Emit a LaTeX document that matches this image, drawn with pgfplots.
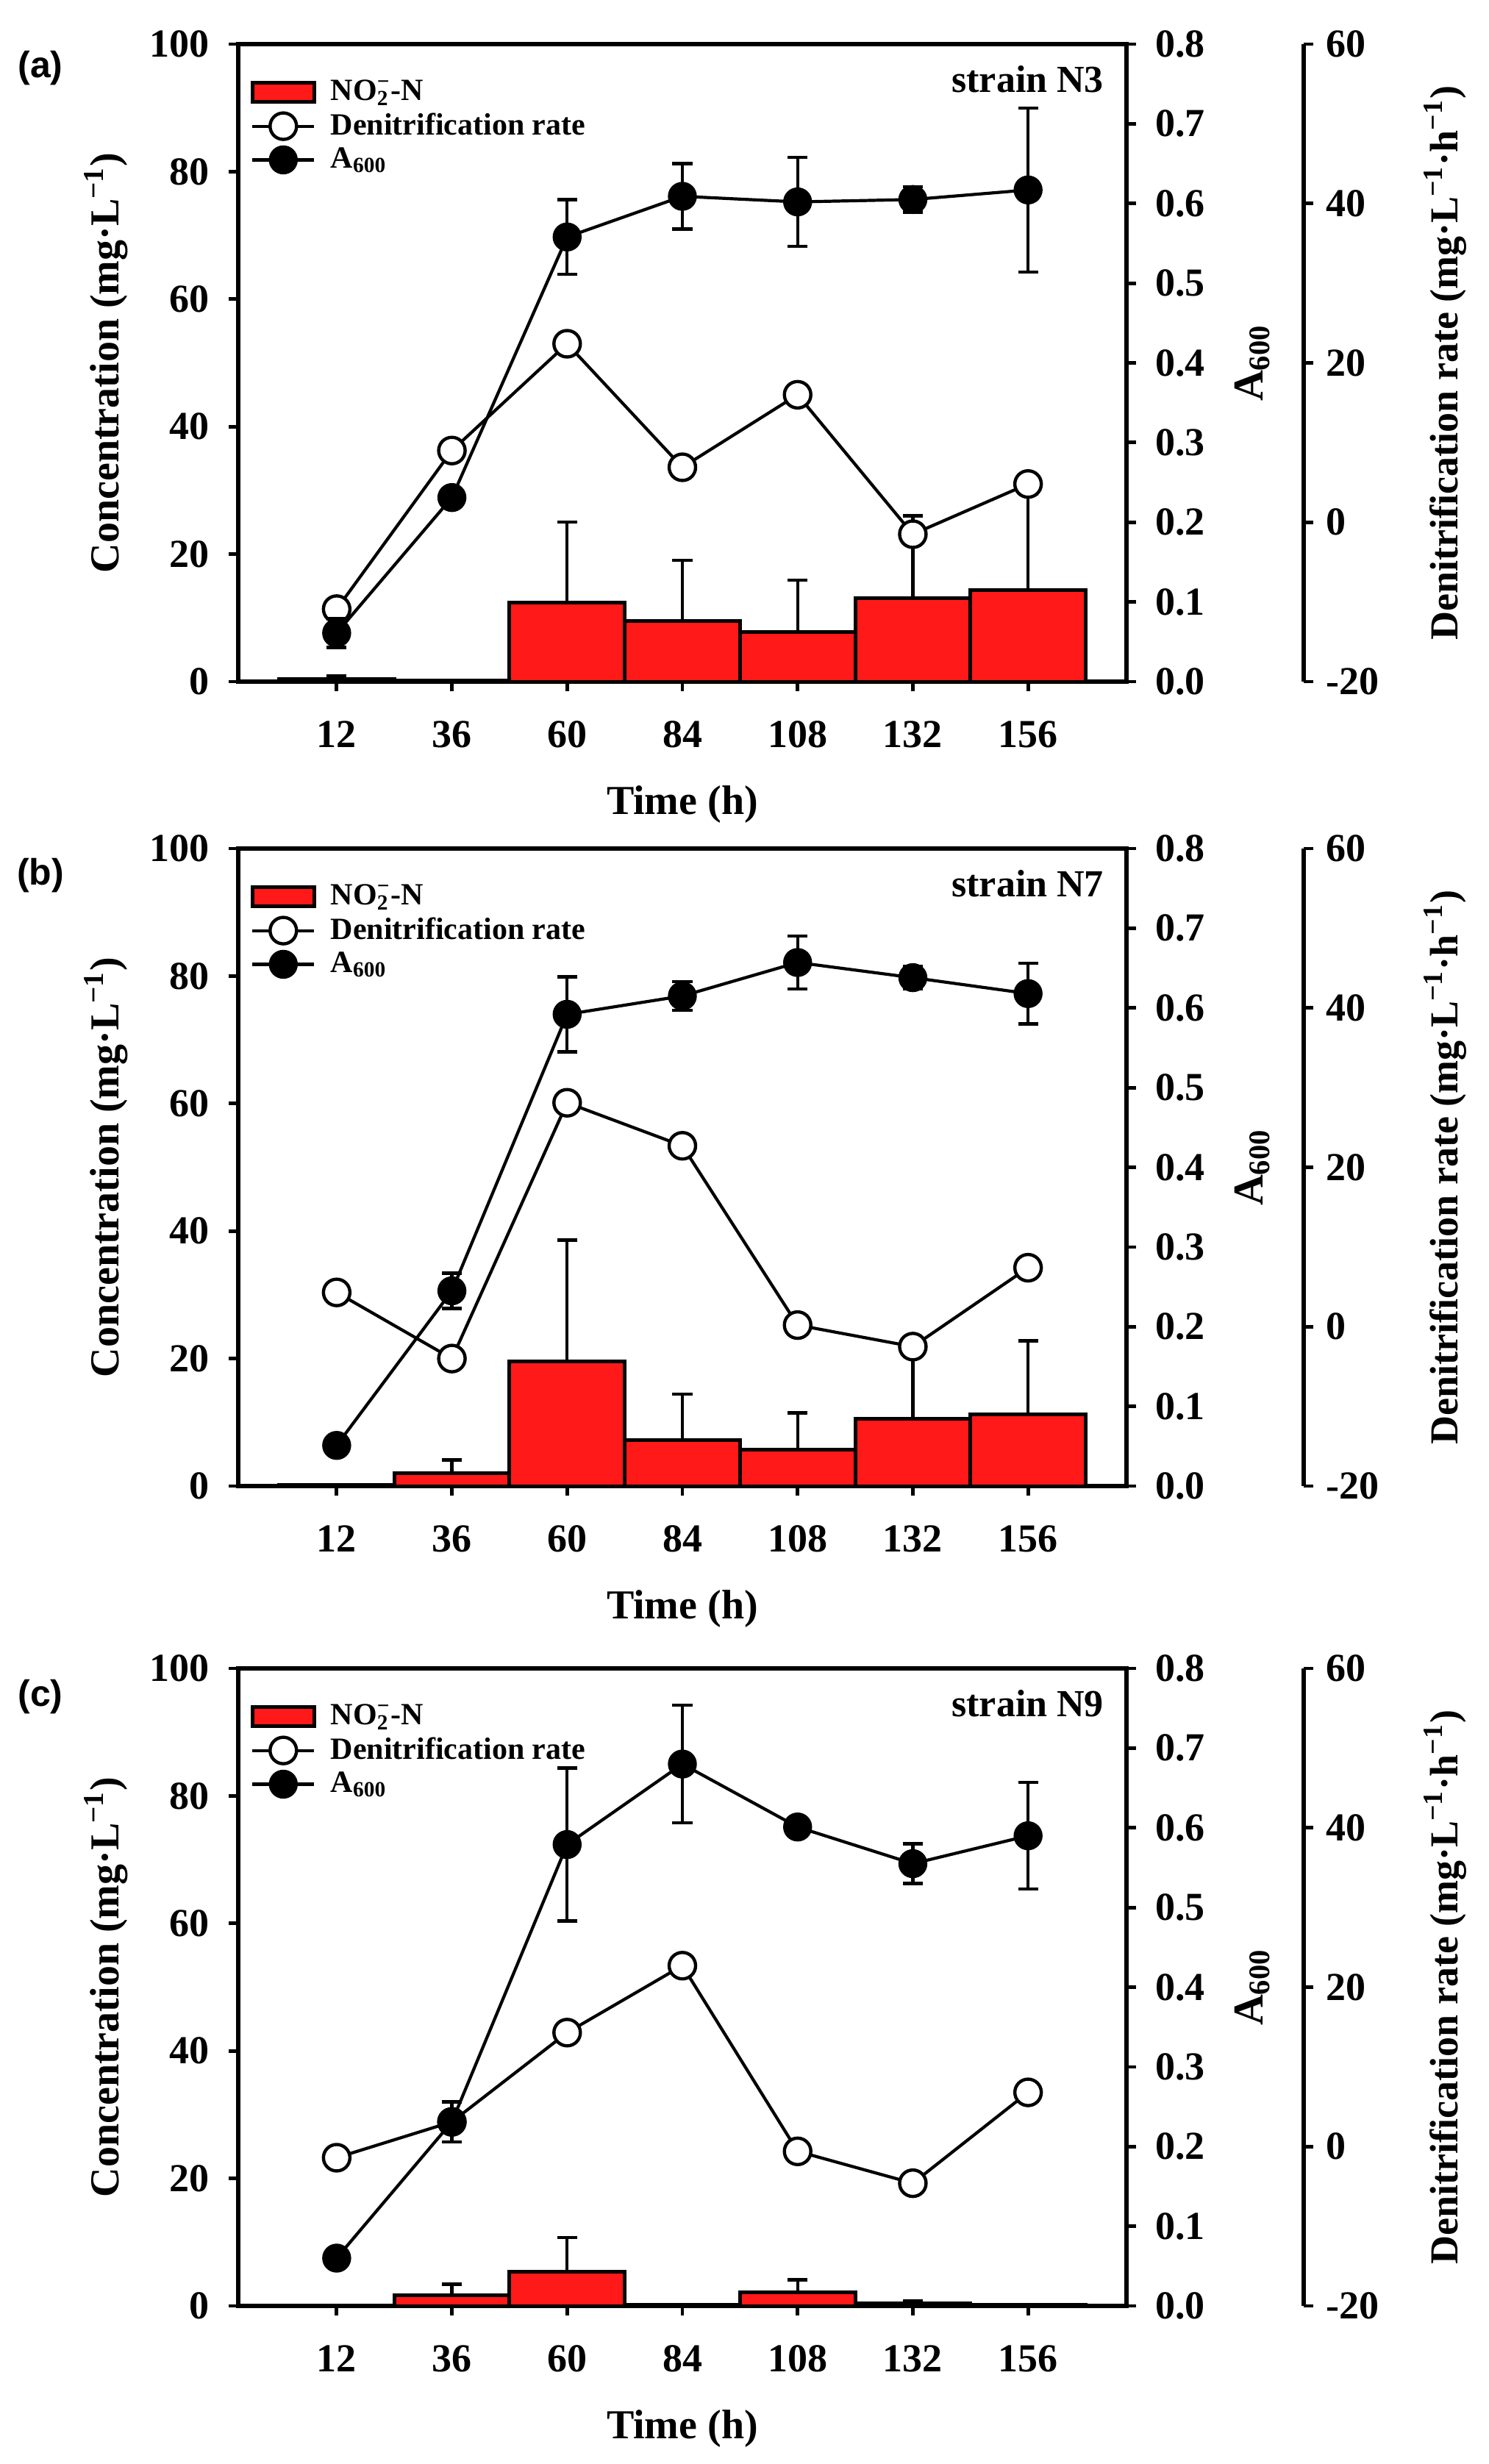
\documentclass[border=0pt]{standalone}
\usepackage{fontspec}
\setmainfont{Liberation Serif}
\newfontfamily\sansf{Liberation Sans}
\usepackage{pgfplots}
\pgfplotsset{compat=1.18}
\definecolor{barred}{RGB}{255,25,25}
\tikzset{
  strainlab/.style={anchor=east, font=\fontsize{13}{15}\selectfont\bfseries},
  panellab/.style={font=\sansf\bfseries\fontsize{12.5}{14}\selectfont},
}
\pgfplotsset{
  common/.style={
    scale only axis, width=302pt, height=216.75pt,
    xmin=-8.5, xmax=176.5,
    tick align=outside,
    major tick length=3.3pt,
    /pgf/number format/assume math mode=true,
    tick label style={font=\fontsize{13.5}{15}\selectfont\bfseries},
    every tick/.style={black, line width=1.2pt},
  },
  leftax/.style={common, clip=false,
    ymin=0, ymax=100, ytick={0,20,40,60,80,100},
    xtick={12,36,60,84,108,132,156}, xtick pos=bottom, ytick pos=left,
    axis line style={line width=1.7pt},
    xticklabel style={yshift=-6.5pt},
    yticklabel style={xshift=-3pt},
    xlabel={Time (h)},
    ylabel={Concentration (mg·L\textsuperscript{−1})},
    every axis x label/.style={at={(axis description cs:0.5,-0.193)}, anchor=center, font=\fontsize{14}{16}\selectfont\bfseries},
    every axis y label/.style={at={(axis description cs:-0.149,0.5)}, anchor=center, rotate=90, font=\fontsize{14}{16}\selectfont\bfseries},
    legend style={at={(axis description cs:0,1)}, anchor=north west, xshift=1pt, yshift=-8pt,
      draw=none, fill=none, font=\fontsize{10.5}{12}\selectfont\bfseries, row sep=-1.2pt, column sep=3pt},
    legend cell align=left,
  },
  rateax/.style={common,
    ymin=-20, ymax=60, ytick={-20,0,20,40,60},
    axis x line=none, axis y line*=right,
    every outer y axis line/.append style={xshift=60.25pt, line width=1.4pt},
    ytick style={xshift=60.25pt},
    yticklabel style={xshift=61pt, anchor=west},
    ylabel={Denitrification rate (mg·L\textsuperscript{−1}·h\textsuperscript{−1})},
    every axis y label/.style={at={(axis description cs:1.359,0.5)}, anchor=center, rotate=90, font=\fontsize{13.5}{15}\selectfont\bfseries},
  },
  aax/.style={common,
    ymin=0, ymax=0.8, ytick={0,0.1,0.2,0.3,0.4,0.5,0.6,0.7,0.8},
    axis x line=none, axis y line*=right,
    every outer y axis line/.append style={line width=1.7pt},
    yticklabel style={xshift=3pt, /pgf/number format/.cd, fixed, fixed zerofill, precision=1},
    ylabel={A\textsubscript{600}},
    every axis y label/.style={at={(axis description cs:1.1416,0.5)}, anchor=center, rotate=90, font=\fontsize{14.5}{16}\selectfont\bfseries},
  },
  barlegend/.style={legend image code/.code={\draw[##1] (0pt,-3.2pt) rectangle (21pt,3.2pt);}},
  linelegend/.style={legend image code/.code={\draw[mark repeat=2, mark phase=2, ##1] plot coordinates {(0pt,0pt) (10.5pt,0pt) (21pt,0pt)};}},
  barplot/.style={ybar, bar width=24, fill=barred, draw=black, line width=1.25pt, barlegend,
    error bars/.cd, y dir=plus, y explicit,
    error bar style={line width=1.1pt, black},
    error mark options={rotate=90, mark size=3.4pt, line width=1.1pt}},
  rateplot/.style={black, line width=1.05pt, mark=*, mark size=4.5pt, mark options={fill=white, line width=1.1pt}},
  aplot/.style={black, line width=1.05pt, mark=*, mark size=4.4pt, mark options={fill=black},
    error bars/.cd, y dir=both, y explicit,
    error bar style={line width=1.1pt, black},
    error mark options={rotate=90, mark size=3.4pt, line width=1.1pt}},
}
\begin{document}
\begin{tikzpicture}
\path[use as bounding box] (0pt,0pt) rectangle (506pt,-837.75pt);

% ---------------- panel (a) ----------------
\begin{axis}[leftax, at={(81pt,-231.75pt)}, anchor=south west]
\addplot[barplot] coordinates {(12,0.4) +- (0,0.5) (36,0.15) +- (0,0) (60,12.4) +- (0,12.6) (84,9.5) +- (0,9.5) (108,7.8) +- (0,8.1) (132,13.1) +- (0,12.9) (156,14.4) +- (0,15.0)};
\addlegendentry{NO\rlap{\textsubscript{2}}\textsuperscript{−}-N}
\addlegendimage{linelegend, rateplot}
\addlegendentry{Denitrification rate}
\addlegendimage{linelegend, black, line width=1.05pt, mark=*, mark size=4.4pt}
\addlegendentry{A\textsubscript{600}}
\node[strainlab] at (axis description cs:0.986,0.9446) {strain N3};
\node[panellab] at (axis description cs:-0.2227,0.963) {(a)};
\end{axis}
\begin{axis}[rateax, at={(81pt,-231.75pt)}, anchor=south west]
\addplot[rateplot] coordinates {(12,-10.9) (36,9.0) (60,22.4) (84,6.9) (108,16.0) (132,-1.5) (156,4.8)};
\end{axis}
\begin{axis}[aax, at={(81pt,-231.75pt)}, anchor=south west]
\addplot[aplot] coordinates {(12,0.061) +- (0,0.018) (36,0.231) +- (0,0.010) (60,0.558) +- (0,0.047) (84,0.609) +- (0,0.041) (108,0.602) +- (0,0.056) (132,0.605) +- (0,0.016) (156,0.617) +- (0,0.103)};
\end{axis}

% ---------------- panel (b) ----------------
\begin{axis}[leftax, at={(81pt,-505.25pt)}, anchor=south west]
\addplot[barplot] coordinates {(12,0.2) +- (0,0) (36,2.05) +- (0,2.05) (60,19.5) +- (0,19.1) (84,7.2) +- (0,7.2) (108,5.75) +- (0,5.75) (132,10.5) +- (0,10.5) (156,11.3) +- (0,11.5)};
\addlegendentry{NO\rlap{\textsubscript{2}}\textsuperscript{−}-N}
\addlegendimage{linelegend, rateplot}
\addlegendentry{Denitrification rate}
\addlegendimage{linelegend, black, line width=1.05pt, mark=*, mark size=4.4pt}
\addlegendentry{A\textsubscript{600}}
\node[strainlab] at (axis description cs:0.986,0.9446) {strain N7};
\node[panellab] at (axis description cs:-0.2227,0.958) {(b)};
\end{axis}
\begin{axis}[rateax, at={(81pt,-505.25pt)}, anchor=south west]
\addplot[rateplot] coordinates {(12,4.3) (36,-4.0) (60,28.1) (84,22.7) (108,0.2) (132,-2.5) (156,7.4)};
\end{axis}
\begin{axis}[aax, at={(81pt,-505.25pt)}, anchor=south west]
\addplot[aplot] coordinates {(12,0.051) +- (0,0) (36,0.245) +- (0,0.022) (60,0.592) +- (0,0.047) (84,0.615) +- (0,0.018) (108,0.657) +- (0,0.033) (132,0.638) +- (0,0.014) (156,0.618) +- (0,0.038)};
\end{axis}

% ---------------- panel (c) ----------------
\begin{axis}[leftax, at={(81pt,-784pt)}, anchor=south west]
\addplot[barplot] coordinates {(12,0) +- (0,0) (36,1.7) +- (0,1.7) (60,5.4) +- (0,5.3) (84,0.2) +- (0,0) (108,2.1) +- (0,2.0) (132,0.4) +- (0,0.4) (156,0.2) +- (0,0)};
\addlegendentry{NO\rlap{\textsubscript{2}}\textsuperscript{−}-N}
\addlegendimage{linelegend, rateplot}
\addlegendentry{Denitrification rate}
\addlegendimage{linelegend, black, line width=1.05pt, mark=*, mark size=4.4pt}
\addlegendentry{A\textsubscript{600}}
\node[strainlab] at (axis description cs:0.986,0.9446) {strain N9};
\node[panellab] at (axis description cs:-0.2227,0.955) {(c)};
\end{axis}
\begin{axis}[rateax, at={(81pt,-784pt)}, anchor=south west]
\addplot[rateplot] coordinates {(12,-1.4) (36,3.1) (60,14.3) (84,22.7) (108,-0.6) (132,-4.6) (156,6.8)};
\end{axis}
\begin{axis}[aax, at={(81pt,-784pt)}, anchor=south west]
\addplot[aplot] coordinates {(12,0.060) +- (0,0.010) (36,0.231) +- (0,0.025) (60,0.579) +- (0,0.096) (84,0.680) +- (0,0.074) (108,0.601) +- (0,0) (132,0.555) +- (0,0.025) (156,0.590) +- (0,0.067)};
\end{axis}
\end{tikzpicture}
\end{document}
